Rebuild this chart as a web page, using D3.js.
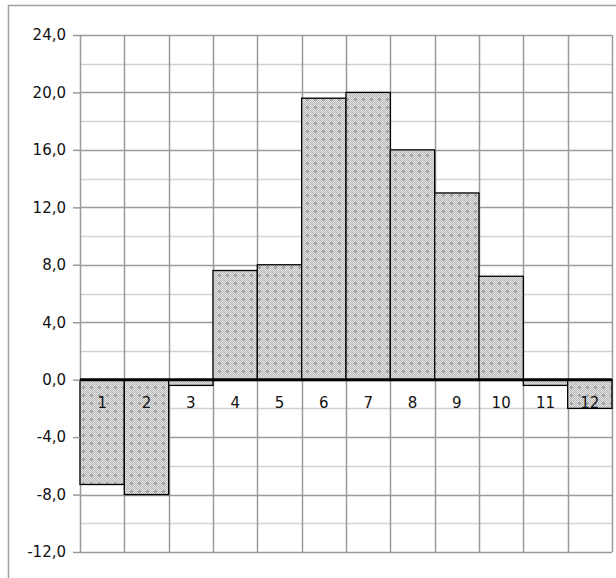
<!DOCTYPE html>
<html>
<head>
<meta charset="utf-8">
<script src="https://cdn.jsdelivr.net/npm/d3@7"></script>
<style>
  body { margin: 0; background: #fff; }
  text { font-family: "DejaVu Sans", sans-serif; font-size: 15px; fill: #111; }
</style>
</head>
<body>
<div id="chart"></div>
<script>
'use strict';

// data
const categories = ['1', '2', '3', '4', '5', '6', '7', '8', '9', '10', '11', '12'];
const values = [-7.3, -8.0, -0.4, 7.6, 8.0, 19.6, 20.0, 16.0, 13.0, 7.2, -0.4, -2.0];
const majorTicks = [-12, -8, -4, 0, 4, 8, 12, 16, 20, 24];
const minorTicks = [-10, -6, -2, 2, 6, 10, 14, 18, 22];

const W = 616, H = 578;
const margin = { top: 35, left: 80, right: 4, bottom: 26 };

const svg = d3.select('#chart').append('svg')
    .attr('width', W)
    .attr('height', H);

// dotted fill like the original
const defs = svg.append('defs');
const pat = defs.append('pattern')
    .attr('id', 'dots')
    .attr('patternUnits', 'userSpaceOnUse')
    .attr('width', 8)
    .attr('height', 8);
pat.append('rect').attr('width', 8).attr('height', 8).attr('fill', '#e2e2e2');
for (let i = 0; i < 8; i++) {
    for (let j = 0; j < 8; j++) {
        if ((i + j) % 2 === 0) {
            pat.append('rect').attr('x', i).attr('y', j).attr('width', 1).attr('height', 1).attr('fill', '#b8b8b8');
        }
    }
}
pat.append('rect').attr('x', 3).attr('y', 2).attr('width', 1).attr('height', 3).attr('fill', '#a0a0a0');
pat.append('rect').attr('x', 2).attr('y', 3).attr('width', 3).attr('height', 1).attr('fill', '#a0a0a0');

// outer frame (only top and left visible)
svg.append('path')
    .attr('d', 'M8.5,' + H + 'V5.5H' + W)
    .attr('fill', 'none')
    .attr('stroke', '#a0a0a0')
    .attr('stroke-width', 1.5);

const x = d3.scaleBand()
    .domain(categories)
    .range([margin.left, W - margin.right])
    .padding(0);

const y = d3.scaleLinear()
    .domain([-12, 24])
    .range([H - margin.bottom, margin.top]);

const grid = svg.append('g');

// minor horizontal gridlines
grid.selectAll('.minor')
    .data(minorTicks)
    .enter()
    .append('line')
    .attr('x1', margin.left)
    .attr('x2', W - margin.right)
    .attr('y1', d => Math.round(y(d)) + 0.5)
    .attr('y2', d => Math.round(y(d)) + 0.5)
    .attr('stroke', '#d2d2d2')
    .attr('stroke-width', 1.5);

// major horizontal gridlines
grid.selectAll('.major')
    .data(majorTicks)
    .enter()
    .append('line')
    .attr('x1', margin.left)
    .attr('x2', W - margin.right)
    .attr('y1', d => Math.round(y(d)) + 0.5)
    .attr('y2', d => Math.round(y(d)) + 0.5)
    .attr('stroke', '#9a9a9a')
    .attr('stroke-width', 1.5);

// vertical gridlines at category borders
const xEdges = categories.map(c => x(c)).concat([x.range()[1]]);
grid.selectAll('.vline')
    .data(xEdges)
    .enter()
    .append('line')
    .attr('x1', d => Math.round(d) + 0.5)
    .attr('x2', d => Math.round(d) + 0.5)
    .attr('y1', y(24))
    .attr('y2', y(-12))
    .attr('stroke', '#9a9a9a')
    .attr('stroke-width', 1.5);

// bars
svg.append('g')
    .selectAll('rect')
    .data(values)
    .enter()
    .append('rect')
    .attr('x', (d, i) => x(categories[i]))
    .attr('width', x.bandwidth())
    .attr('y', d => y(Math.max(0, d)))
    .attr('height', d => Math.abs(y(d) - y(0)))
    .attr('fill', 'url(#dots)')
    .attr('stroke', '#000')
    .attr('stroke-width', 1.3);

// y axis with ticks on the left
const yAxis = svg.append('g')
    .attr('transform', 'translate(' + margin.left + ',0)')
    .call(d3.axisLeft(y)
        .tickValues(majorTicks)
        .tickSize(7)
        .tickPadding(7)
        .tickFormat(d => d3.format('.1f')(d).replace('.', ',').replace('\u2212', '-')));
yAxis.select('.domain').remove();
yAxis.selectAll('.tick line').attr('stroke', '#9a9a9a').attr('stroke-width', 1.5);
yAxis.selectAll('.tick text')
    .attr('font-family', '"DejaVu Sans", sans-serif')
    .attr('font-size', 15)
    .attr('fill', '#111');

// zero line
svg.append('line')
    .attr('x1', margin.left)
    .attr('x2', W - margin.right)
    .attr('y1', y(0))
    .attr('y2', y(0))
    .attr('stroke', '#000')
    .attr('stroke-width', 3);

// category labels just under the zero line
svg.append('g')
    .selectAll('text')
    .data(categories)
    .enter()
    .append('text')
    .attr('x', d => x(d) + x.bandwidth() / 2)
    .attr('y', y(0) + 28)
    .attr('text-anchor', 'middle')
    .text(d => d);
</script>
</body>
</html>
